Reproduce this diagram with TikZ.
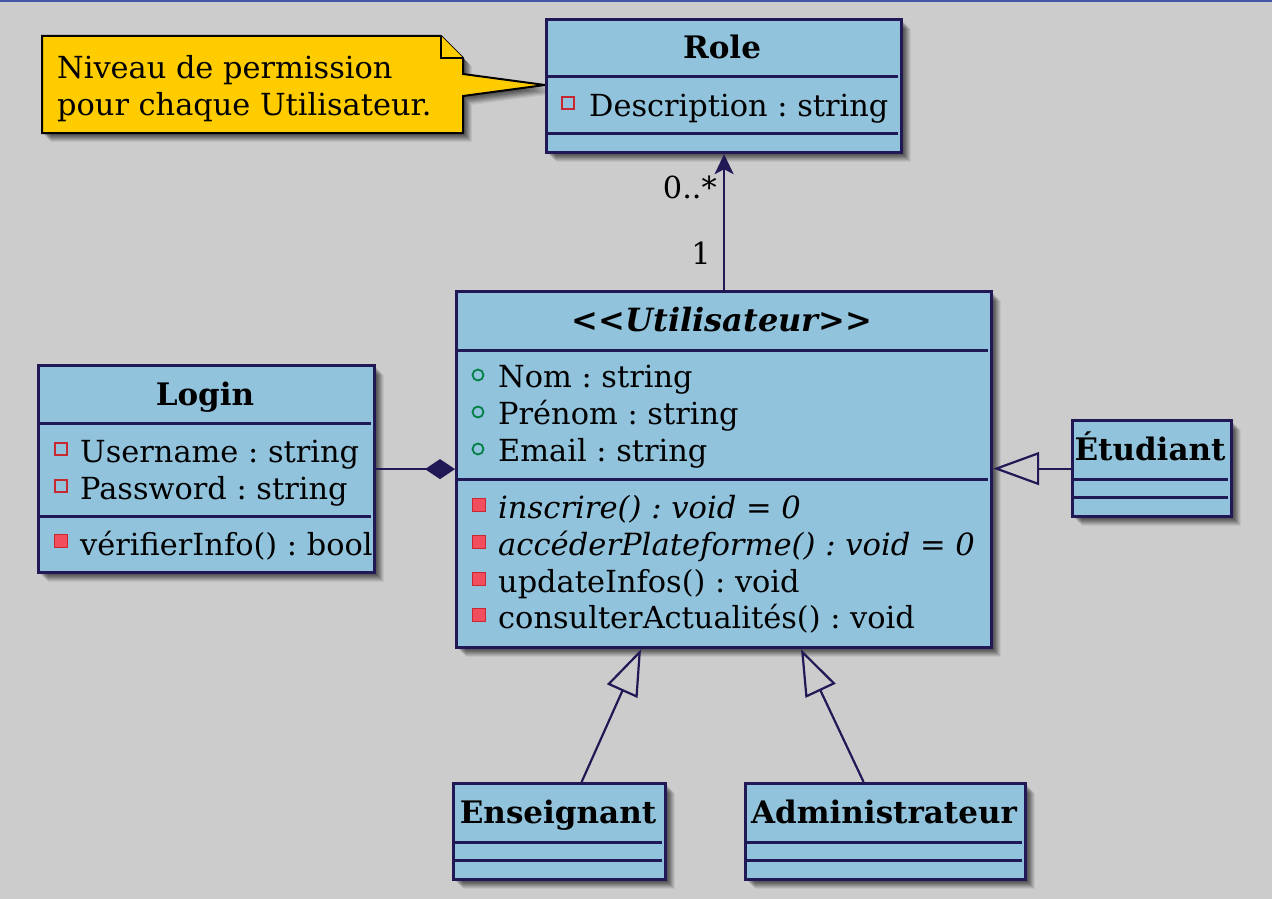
\documentclass[tikz,border=0pt]{standalone}
\usepackage{fontspec}
\setmainfont{DejaVu Serif}
\usetikzlibrary{arrows.meta,calc}
\definecolor{bg}{HTML}{CCCCCC}
\definecolor{boxfill}{HTML}{91C3DC}
\definecolor{boxline}{HTML}{211856}
\definecolor{notefill}{HTML}{FFCC00}
\definecolor{topline}{HTML}{4455AA}
\definecolor{grn}{HTML}{038048}
\definecolor{rd}{HTML}{C82930}
\definecolor{rdfill}{HTML}{F24D5C}
\tikzset{
  blurshadow/.style={
    preaction={fill=black, opacity=0.11, draw=none, transform canvas={shift={(2pt,-2pt)}}},
    preaction={fill=black, opacity=0.11, draw=none, transform canvas={shift={(3pt,-3pt)}}},
    preaction={fill=black, opacity=0.11, draw=none, transform canvas={shift={(4pt,-4pt)}}},
    preaction={fill=black, opacity=0.11, draw=none, transform canvas={shift={(5pt,-5pt)}}},
    preaction={fill=black, opacity=0.10, draw=none, transform canvas={shift={(6pt,-6pt)}}},
    preaction={fill=black, opacity=0.09, draw=none, transform canvas={shift={(7pt,-7pt)}}},
    preaction={fill=black, opacity=0.08, draw=none, transform canvas={shift={(8pt,-8pt)}}},
    preaction={fill=black, opacity=0.06, draw=none, transform canvas={shift={(9pt,-9pt)}}}},
  classbox/.style={draw=boxline, fill=boxfill, line width=3.2pt, rectangle, inner sep=0pt, anchor=north west, blurshadow},
  sepline/.style={draw=boxline, line width=3pt},
  txt/.style={anchor=base west, inner sep=0pt, font=\fontsize{30.4}{36}\selectfont\frenchspacing},
  ittxt/.style={txt, font=\fontsize{30.6}{36}\selectfont\frenchspacing\itshape},
  ttl/.style={anchor=base, inner sep=0pt, font=\fontsize{31}{36}\selectfont\bfseries},
  conn/.style={draw=boxline, line width=2.2pt},
  pubicon/.style={draw=grn, line width=1.8pt},
  privattr/.style={draw=rd, line width=1.6pt},
  privmeth/.style={draw=rd, fill=rdfill, line width=1.6pt},
  openhead/.style={-{Triangle[open,length=46pt,width=33pt]}},
}
\newcommand{\pubic}[2]{\draw[pubicon] (#1,#2) circle (5.5);}
\newcommand{\privA}[2]{\draw[privattr] ($(#1,#2)+(-6,-6)$) rectangle ($(#1,#2)+(6,6)$);}
\newcommand{\privM}[2]{\draw[privmeth] ($(#1,#2)+(-6.5,-6.5)$) rectangle ($(#1,#2)+(6.5,6.5)$);}
\begin{document}
\frenchspacing
\begin{tikzpicture}[x=1pt,y=-1pt]
\useasboundingbox (0,0) rectangle (1272,899);
\fill[bg] (0,0) rectangle (1272,899);
\draw[topline, line width=2pt] (0,1) -- (1272,1);

% note
\path[fill=notefill, draw=black, line width=2pt, line join=miter, blurshadow]
  (42,36) -- (441,36) -- (463,58) -- (463,74) -- (545,85) -- (463,96) -- (463,133) -- (42,133) -- cycle;
\draw[fill=notefill, draw=black, line width=2pt] (441,36) -- (441,58) -- (463,58);
\node[txt] (n1) at (57,78) {Niveau de permission};
\node[txt] (n2) at (57,115) {pour chaque Utilisateur.};

% Role
\node[classbox, minimum width=355pt, minimum height=133pt] (role) at (545,18) {};
\draw[sepline] (547,77) -- (898,77);
\draw[sepline] (547,133) -- (898,133);
\node[ttl] (roleT) at (722,59) {Role};
\privA{568}{103}
\node[txt] (roleA) at (589,116) {Description : string};

% Utilisateur
\node[classbox, minimum width=535pt, minimum height=356pt] (util) at (455,290) {};
\draw[sepline] (457,350) -- (988,350);
\draw[sepline] (457,479) -- (988,479);
\node[ttl, font=\fontsize{32}{36}\selectfont\bfseries\itshape] (utilT) at (722,331) {<{}<Utilisateur>{}>};
\pubic{478}{375}
\node[txt] (u1) at (498,387) {Nom : string};
\pubic{478}{412}
\node[txt] (u2) at (498,424) {Prénom : string};
\pubic{478}{449}
\node[txt] (u3) at (498,461) {Email : string};
\privM{479}{505}
\node[ittxt] (u4) at (498,518) {inscrire() : void = 0};
\privM{479}{542}
\node[ittxt] (u5) at (498,555) {accéderPlateforme() : void = 0};
\privM{479}{579}
\node[txt] (u6) at (498,592) {updateInfos() : void};
\privM{479}{615}
\node[txt] (u7) at (498,628) {consulterActualités() : void};

% Login
\node[classbox, minimum width=336pt, minimum height=207pt] (login) at (37,364) {};
\draw[sepline] (39,423) -- (371,423);
\draw[sepline] (39,516) -- (371,516);
\node[ttl] (loginT) at (205,405) {Login};
\privA{61}{449}
\node[txt] (l1) at (80,462) {Username : string};
\privA{61}{486}
\node[txt] (l2) at (80,499) {Password : string};
\privM{61}{541}
\node[txt] (l3) at (80,555) {vérifierInfo() : bool};

% Etudiant
\node[classbox, minimum width=159pt, minimum height=96pt] (etu) at (1071,419) {};
\draw[sepline] (1073,479) -- (1228,479);
\draw[sepline] (1073,497) -- (1228,497);
\node[ttl] (etuT) at (1150,460) {Étudiant};

% Enseignant
\node[classbox, minimum width=212pt, minimum height=96pt] (ens) at (452,782) {};
\draw[sepline] (454,842) -- (662,842);
\draw[sepline] (454,860) -- (662,860);
\node[ttl] (ensT) at (558,823) {Enseignant};

% Administrateur
\node[classbox, minimum width=280pt, minimum height=96pt] (adm) at (744,782) {};
\draw[sepline] (746,842) -- (1022,842);
\draw[sepline] (746,860) -- (1022,860);
\node[ttl] (admT) at (884,823) {Administrateur};

% connectors
\draw[conn, -{Stealth[length=20pt,width=19pt,inset=5pt]}] (util.north) -- (role.south);
\node[txt, anchor=base east] (m1) at (717,198) {0..*};
\node[txt, anchor=base] (m2) at (701,264) {1};
\draw[conn, {Diamond[length=30pt,width=20pt]}-] (login.east -| util.west) -- (login.east);
\draw[conn, openhead] (etu.west) -- (etu.west -| util.east);
\draw[conn, openhead] ($(ens.north)+(22,0)$) -- ($(util.south west)+(186,0)$);
\draw[conn, openhead] ($(adm.north)+(-22,0)$) -- ($(util.south west)+(346,0)$);
\end{tikzpicture}
\end{document}
